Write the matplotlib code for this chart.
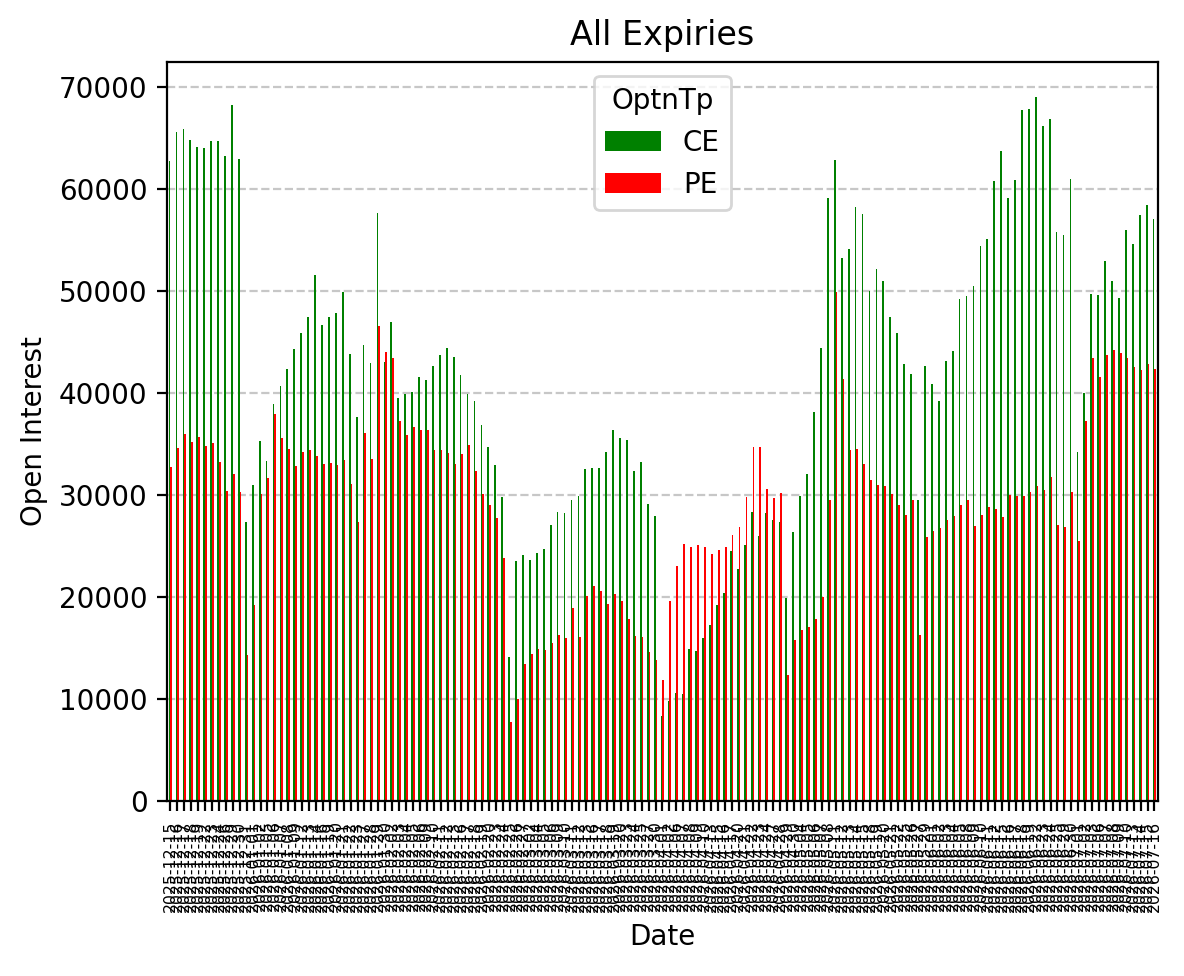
import pandas as pd
import matplotlib
matplotlib.use("Agg")
import matplotlib.pyplot as plt

# trading days (NSE holidays removed)
holidays = ['2025-12-25', '2026-01-15', '2026-01-26', '2026-03-03', '2026-03-26',
            '2026-03-31', '2026-04-03', '2026-04-14', '2026-05-01', '2026-05-28',
            '2026-06-26']
days = pd.bdate_range('2025-12-15', '2026-07-16')
days = days[~days.isin(pd.to_datetime(holidays))]
dates = list(days.strftime('%Y-%m-%d'))

ce = [62700, 65600, 65900, 64800, 64100, 64000, 64700, 64700, 63200, 68200,
      62900, 27400, 31000, 35300, 33300, 38900, 40700, 42400, 44300, 45900,
      47400, 51600, 46700, 47400, 47800, 49900, 43800, 37600, 44700, 42900,
      57600, 43000, 47000, 39500, 39900, 40100, 41600, 41300, 42600, 43700,
      44400, 43500, 41800, 39900, 39200, 36900, 34700, 32900, 29800, 14100,
      23500, 24100, 23600, 24300, 24700, 27100, 28300, 28200, 29500, 29900,
      32500, 32600, 32600, 34200, 36400, 35600, 35400, 32400, 33200, 29100,
      27900, 8300, 9800, 10600, 10500, 14900, 14700, 16000, 17300, 19200,
      20400, 24500, 22700, 25100, 28300, 26000, 28200, 27500, 27400, 19900,
      26400, 29900, 32100, 38100, 44400, 59100, 62800, 53200, 54100, 58200,
      57500, 50000, 52200, 51000, 47400, 45900, 42800, 41900, 29500, 42600,
      40900, 39200, 43100, 44100, 49200, 49500, 50500, 54400, 55100, 60800,
      63700, 59100, 60900, 67700, 67800, 69000, 66200, 66900, 55800, 55500,
      61000, 34200, 40000, 49700, 49600, 52900, 51000, 49300, 56000, 54600,
      57400, 58400, 57100]

pe = [32700, 34600, 36000, 35200, 35700, 34800, 35100, 33200, 30400, 32100,
      30300, 14300, 19200, 30100, 31700, 37900, 35600, 34500, 32800, 34200,
      34400, 33800, 33000, 33100, 32900, 33400, 31100, 27400, 36100, 33500,
      46600, 44000, 43400, 37300, 35900, 36700, 36400, 36400, 34400, 34400,
      34100, 33000, 34000, 34900, 32400, 30100, 29000, 27700, 23800, 7700,
      10000, 13400, 14400, 14900, 14800, 15500, 16300, 16000, 18900, 16100,
      20100, 21100, 20600, 19300, 20300, 19600, 17800, 16200, 16100, 14600,
      13800, 11900, 19600, 23000, 25200, 24900, 25100, 24900, 24200, 24600,
      24900, 26100, 26900, 29800, 34700, 34700, 30600, 29700, 30200, 12400,
      15800, 16800, 17100, 17800, 20000, 29500, 49900, 41400, 34400, 34500,
      33000, 31500, 31000, 30900, 30100, 29000, 28000, 29500, 16300, 25900,
      26500, 26800, 27500, 27900, 29000, 29500, 27000, 28000, 28800, 28600,
      27800, 30000, 29900, 29900, 30300, 30900, 30500, 31800, 27100, 26900,
      30300, 25500, 37300, 43400, 41600, 43700, 44200, 43900, 43400, 42500,
      42300, 42800, 42400]

df = pd.DataFrame({'CE': ce, 'PE': pe}, index=pd.Index(dates, name='Date'))
df.columns.name = 'OptnTp'

fig, ax = plt.subplots(figsize=(5.92, 4.88), dpi=200)
fig.subplots_adjust(left=0.141, right=0.978, top=0.9365, bottom=0.1793)
df.plot(kind='bar', color=['green', 'red'], ax=ax)
ax.set_title('All Expiries')
ax.set_xlabel('Date')
ax.set_ylabel('Open Interest')
ax.tick_params(axis='x', labelsize=5.7, labelrotation=90)
ax.grid(axis='y', linestyle='--', alpha=0.7)
ax.set_axisbelow(True)
ax.legend(title='OptnTp', loc='upper center')
fig.savefig('out.png', dpi=200)
